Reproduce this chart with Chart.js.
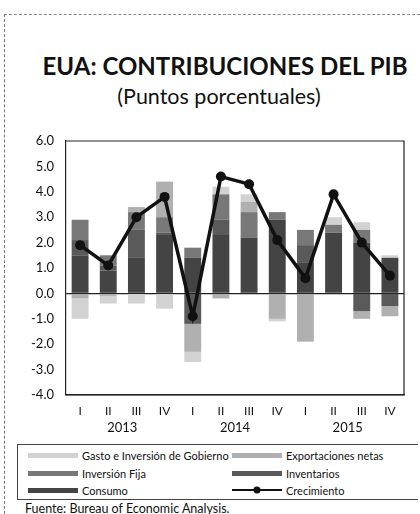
<!DOCTYPE html>
<html><head><meta charset="utf-8">
<script src="https://cdn.jsdelivr.net/npm/chart.js@4.4.1/dist/chart.umd.min.js"></script>
<style>
html,body{margin:0;padding:0;background:#fff;}
body{width:420px;height:514px;position:relative;overflow:hidden;font-family:Lato,"Open Sans",sans-serif;color:#111;}
#frameTop{position:absolute;left:4px;top:14px;width:416px;border-top:1px dashed #888;}
#frameLeft{position:absolute;left:4px;top:14px;height:500px;border-left:1px dashed #777;}
#title{position:absolute;left:0;width:450px;top:51px;text-align:center;font-weight:bold;font-size:24px;letter-spacing:0px;}
#subtitle{position:absolute;left:0;width:438px;top:83px;text-align:center;font-size:21.5px;}
#wrap{position:absolute;left:0;top:120px;width:420px;height:320px;}
#legend{position:absolute;left:17px;top:444px;width:401px;height:56px;border:1px solid #444;border-right:none;box-sizing:border-box;font-size:11px;}
.item{position:absolute;display:flex;align-items:center;height:14px;}
.sw{width:50px;height:5px;margin-right:4px;}
#fuente{position:absolute;left:25px;top:501px;font-size:12.5px;}
</style></head>
<body>
<div id="frameTop"></div><div id="frameLeft"></div>
<div id="title">EUA: CONTRIBUCIONES DEL PIB</div>
<div id="subtitle">(Puntos porcentuales)</div>
<div id="wrap"><canvas id="c" width="420" height="320"></canvas></div>
<div id="legend"></div>
<div id="fuente">Fuente: Bureau of Economic Analysis.</div>
<script>
const quarters = ['I','II','III','IV','I','II','III','IV','I','II','III','IV'];
const years = ['2013','2014','2015'];
const yTicks = [-4,-3,-2,-1,0,1,2,3,4,5,6];
const consumo       = [1.5, 0.9, 1.4, 2.3, 1.4, 2.3, 2.2, 2.9, 1.2, 2.4, 2.0, 1.4];
const inventarios   = [0.6, 0.2, 1.1, 0.1,-1.2, 0.6, 0.0, 0.0, 0.7, 0.0,-0.7,-0.5];
const inversionFija = [0.8, 0.4, 0.7, 0.6, 0.4, 1.0, 1.0, 0.3, 0.6, 0.3, 0.5, 0.0];
const exportaciones = [-0.2,-0.1, 0.2, 1.4,-1.1,-0.2, 0.4,-1.0,-1.9, 0.0,-0.3,-0.4];
const gobierno      = [-0.8,-0.3,-0.4,-0.6,-0.4, 0.3, 0.3,-0.1, 0.0, 0.3, 0.3, 0.1];
const crecimiento   = [1.9, 1.1, 3.0, 3.8,-0.9, 4.6, 4.3, 2.1, 0.6, 3.9, 2.0, 0.7];

const colors = {cons:'#444444', inv:'#5a5a5a', fija:'#787878', exp:'#b0b0b0', gob:'#d2d2d2'};

const bar = (label,data,color)=>({type:'bar',label,data,backgroundColor:color,borderWidth:0,order:1,stack:'s',categoryPercentage:1,barPercentage:0.6});

const boxPlugin = {id:'box',afterDatasetsDraw(chart){
  const a=chart.chartArea,ctx=chart.ctx;ctx.save();ctx.strokeStyle='#222';ctx.lineWidth=1.2;
  ctx.beginPath();ctx.moveTo(a.left,a.top);ctx.lineTo(a.right,a.top);ctx.lineTo(a.right,a.bottom);ctx.lineTo(a.left,a.bottom);ctx.stroke();ctx.restore();}};

new Chart(document.getElementById('c'),{
  data:{labels:quarters,datasets:[
    bar('Consumo',consumo,colors.cons),
    bar('Inventarios',inventarios,colors.inv),
    bar('Inversión Fija',inversionFija,colors.fija),
    bar('Exportaciones netas',exportaciones,colors.exp),
    bar('Gasto e Inversión de Gobierno',gobierno,colors.gob),
    {type:'line',label:'Crecimiento',data:crecimiento,borderColor:'#111',backgroundColor:'#111',borderWidth:3.5,pointRadius:5,pointBackgroundColor:'#111',pointBorderWidth:0,order:0,tension:0}
  ]},
  options:{responsive:false,animation:false,
    layout:{padding:{top:21,right:16,left:0,bottom:0}},
    plugins:{legend:{display:false},tooltip:{enabled:false}},
    scales:{
      x:{stacked:true,offset:true,afterFit(s){s.height=22;},grid:{display:false,drawTicks:false},border:{color:'#222',width:1.2},
        ticks:{color:'#111',padding:9,font:{family:'Lato',size:12}}},
      x2:{type:'category',labels:years,offset:true,position:'bottom',afterFit(s){s.height=23;},grid:{display:false,drawTicks:false},border:{display:false},
        ticks:{color:'#111',padding:3,font:{family:'Lato',size:13}}},
      y:{stacked:true,min:-4,max:6,afterFit(s){s.width=66;},
        afterBuildTicks(s){s.ticks=yTicks.map(v=>({value:v}));},
        border:{color:'#222',width:1.2},
        grid:{drawTicks:false,color:c=>c.tick&&c.tick.value===0?'#222':'rgba(0,0,0,0)',lineWidth:1.2},
        ticks:{color:'#111',padding:12,font:{family:'Lato',size:13},callback:v=>Number(v).toFixed(1)}}
    }},
  plugins:[boxPlugin]
});

const legendItems=[
  ['Gasto e Inversión de Gobierno',colors.gob,10,3],
  ['Exportaciones netas',colors.exp,214,3],
  ['Inversión Fija',colors.fija,10,21],
  ['Inventarios',colors.inv,214,21],
  ['Consumo',colors.cons,10,38],
  ['Crecimiento',null,214,38]
];
const lg=document.getElementById('legend');
legendItems.forEach(([t,c,x,y])=>{
  const d=document.createElement('div');d.className='item';d.style.left=x+'px';d.style.top=y+'px';
  let sw;
  if(c){sw='<div class="sw" style="background:'+c+'"></div>';}
  else{sw='<svg width="50" height="10" style="margin-right:4px"><line x1="0" y1="5" x2="50" y2="5" stroke="#111" stroke-width="2"/><circle cx="25" cy="5" r="3.5" fill="#111"/></svg>';}
  d.innerHTML=sw+'<span>'+t+'</span>';lg.appendChild(d);
});
</script>
</body></html>
